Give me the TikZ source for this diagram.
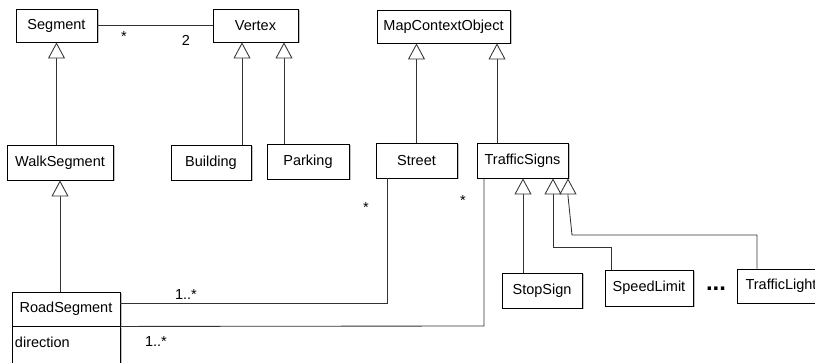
\documentclass[tikz,border=0pt]{standalone}
\usepackage{fontspec}
\setmainfont{Liberation Sans}
\usetikzlibrary{arrows.meta,shadows}
\begin{document}
\begin{tikzpicture}[x=1pt,y=-1pt,
  cls/.style={draw=black, line width=0.9pt, fill=white, inner sep=0pt,
    font=\fontsize{14.5}{17}\selectfont,
    drop shadow={shadow xshift=1.5pt, shadow yshift=-1.5pt, fill=black!35, opacity=0.7}},
  conn/.style={draw=black!80, line width=0.85pt},
  gen/.style={conn, -{Triangle[open, length=16pt, width=17pt, fill=white]}},
  lbl/.style={inner sep=0pt, font=\fontsize{14.5}{17}\selectfont}]
\useasboundingbox (0,0) rectangle (815,363);

% classes
\node[cls, minimum width=81pt, minimum height=33pt] (Segment) at (56.5,25.5) {Segment};
\node[cls, minimum width=85pt, minimum height=33pt] (Vertex) at (255.5,25.5) {Vertex};
\node[cls, minimum width=133pt, minimum height=33pt] (MapContextObject) at (443.5,26.5) {MapContextObject};
\node[cls, minimum width=106pt, minimum height=35pt] (WalkSegment) at (60,162.5) {WalkSegment};
\node[cls, minimum width=80pt, minimum height=35pt] (Building) at (211,162.5) {Building};
\node[cls, minimum width=82pt, minimum height=35pt] (Parking) at (308,161.5) {Parking};
\node[cls, minimum width=81pt, minimum height=35pt] (Street) at (416.5,160.5) {Street};
\node[cls, minimum width=91pt, minimum height=35pt] (TrafficSigns) at (522.5,160.5) {TrafficSigns};
\node[cls, minimum width=80pt, minimum height=35pt] (StopSign) at (542,290.5) {StopSign};
\node[cls, minimum width=88pt, minimum height=36pt] (SpeedLimit) at (649,288) {SpeedLimit};
\node[cls, minimum width=88pt, minimum height=34pt] (TrafficLight) at (781,286) {TrafficLight};
\node[cls, minimum width=108pt, text width=102pt, align=left, inner xsep=3pt, inner ysep=0pt,
      text height=21pt, text depth=23pt, anchor=north] (RoadAttr) at (66,326) {direction};
\node[cls, minimum width=108pt, minimum height=34pt] (RoadSegment) at (66,309) {RoadSegment};

% association Segment - Vertex
\draw[conn] (Segment.east) -- (Vertex.west);
\node[lbl] (mSeg) at (124,36.5) {*};
\node[lbl] (mVer) at (186,40) {2};

% generalizations
\draw[gen] (WalkSegment.north -| Segment.south) -- (Segment.south);
\draw[gen] (RoadSegment.north -| WalkSegment.south) -- (WalkSegment.south);
\draw[gen] ([xshift=31pt]Building.north) -- ([xshift=31pt]Building.north |- Vertex.south);
\draw[gen] ([xshift=-24pt]Parking.north) -- ([xshift=-24pt]Parking.north |- Vertex.south);
\draw[gen] (Street.north) -- (Street.north |- MapContextObject.south);
\draw[gen] ([xshift=-25.5pt]TrafficSigns.north) -- ([xshift=-25.5pt]TrafficSigns.north |- MapContextObject.south);
\draw[gen] ([xshift=-19pt]StopSign.north) -- ([xshift=-19pt]StopSign.north |- TrafficSigns.south);
\coordinate (s1) at (611,247);
\coordinate (s2) at (553,247);
\draw[gen] (SpeedLimit.north -| s1) -- (s1) -- (s2) -- (TrafficSigns.south -| s2);
\coordinate (t1) at (757,235);
\coordinate (t2) at (572,235);
\coordinate (t3) at (568,196);
\draw[gen] (TrafficLight.north -| t1) -- (t1) -- (t2) -- (t3) -- (TrafficSigns.south -| t3);

% associations RoadSegment - Street / TrafficSigns
\coordinate (a1) at (387,303);
\draw[conn] (RoadSegment.east |- a1) -- (a1) -- (Street.south -| a1);
\coordinate (a2) at (484,326);
\draw[conn] (RoadSegment.south east) -- (a2) -- (TrafficSigns.south -| a2);

\node[lbl] (mStreet) at (366,208) {*};
\node[lbl] (mSigns) at (463,201) {*};
\node[lbl] (mRS1) at (186,295) {1..*};
\node[lbl] (mRS2) at (156,342) {1..*};

\node[inner sep=0pt, font=\fontsize{24}{26}\selectfont\bfseries] (dots) at (716,289) {...};
\end{tikzpicture}
\end{document}
